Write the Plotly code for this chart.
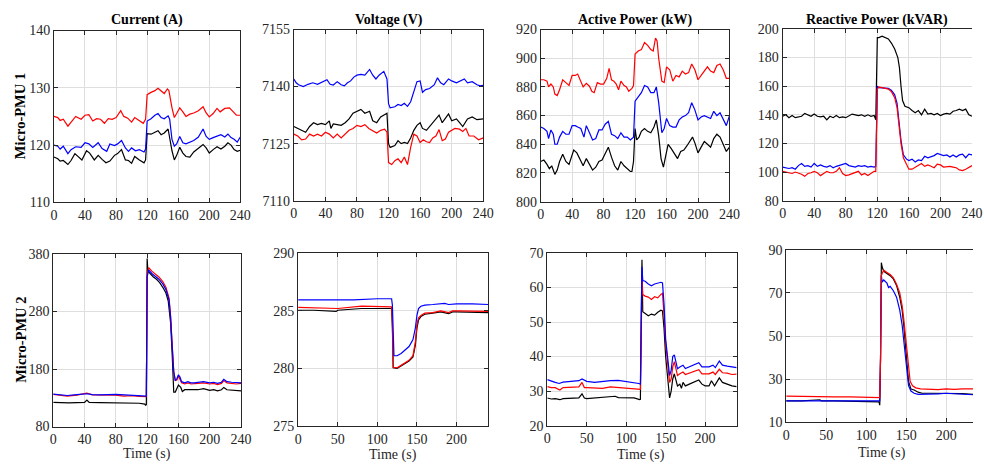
import plotly.graph_objects as go

# ---------------- data (time s, value) ----------------
cur1_red = [(0,125),(5,124.8),(8,124.3),(12,124.5),(18,123.3),(22,124),(28,125),(35,124.5),(40,125.2),(45,125.3),(50,124.2),(55,124.6),(60,124.5),(65,123.8),(70,124.6),(75,124.5),(80,124.8),(86,126),(90,125),(95,124.7),(100,124),(104,124.8),(110,124.2),(115,123.8),(118,124.5),(120,128.8),(125,129.2),(130,129.5),(134,129.9),(138,129.4),(142,129),(146,129.8),(148,129.5),(152,126.5),(155,124.8),(158,125.5),(162,126.5),(166,125.8),(170,125),(175,125.4),(180,125.6),(186,126),(192,126.7),(196,125.6),(200,124.9),(205,125.5),(210,126.4),(214,125.8),(220,126.4),(226,126.5),(230,126),(235,125.2),(240,125.2)]
cur1_blue = [(0,120),(5,119.8),(8,119.3),(12,119.8),(18,118.5),(22,119.2),(28,119.7),(35,119.6),(40,120.4),(45,120.2),(50,119.6),(57,120.4),(62,119.4),(68,118.9),(72,120.2),(78,119.9),(82,120.2),(87,120.8),(92,119.5),(96,118.9),(100,119.5),(105,119),(110,119.2),(116,118.8),(118,119.3),(120,124.2),(125,124.6),(130,125.2),(134,125.5),(138,124.8),(142,124.6),(147,125.1),(149,124.5),(152,121),(155,119.8),(158,120.2),(162,121.5),(166,120.4),(170,120.2),(175,120.5),(180,120.8),(186,121.4),(192,122.8),(196,121.5),(200,121),(205,121.3),(210,121.5),(215,121.8),(220,121.4),(224,121.9),(228,121.3),(232,121),(236,120.5),(240,121.4)]
cur1_black = [(0,117.9),(5,117.6),(8,117.2),(12,117.3),(18,116.6),(22,117.3),(27,118.5),(32,117.8),(36,117.4),(42,119),(46,118.6),(52,117.4),(57,118.2),(62,117.5),(67,116.9),(72,117.2),(78,118.2),(82,118.5),(87,119.2),(92,117.4),(96,117.3),(100,116.8),(104,118),(110,117.4),(116,116.9),(118,117.4),(120,122),(125,121.9),(130,122.3),(134,122.5),(138,121.8),(142,122.1),(147,122.8),(149,121.2),(152,119),(155,117.4),(158,118.2),(162,119.6),(166,118.6),(170,118),(175,117.9),(180,118.8),(186,119.4),(192,120.1),(196,119.5),(200,118.6),(205,119.2),(210,119.7),(215,119.3),(220,119.8),(224,120.4),(228,120),(232,119.2),(236,118.9),(240,119.1)]

volt1_blue = [(0,7142),(3,7141),(6,7140.5),(12,7140),(18,7140.6),(24,7141),(30,7140.6),(36,7141.2),(42,7141.8),(46,7140.6),(50,7140.4),(55,7141.3),(60,7140.5),(64,7140.2),(68,7141),(72,7141.5),(76,7142.5),(80,7143),(85,7143.2),(90,7143),(96,7144.5),(100,7143),(104,7142),(108,7143),(114,7144),(118,7142),(120,7135.5),(122,7134.4),(128,7134.7),(132,7135.3),(136,7135),(140,7135.6),(144,7134.8),(148,7136),(152,7139),(156,7141.3),(160,7141.5),(163,7138.5),(167,7139.2),(172,7139.5),(178,7140.5),(182,7142.3),(186,7141),(190,7140.5),(196,7142),(200,7141.5),(206,7141),(212,7141.5),(216,7142),(220,7141),(226,7141.3),(232,7140.5),(236,7140.2),(240,7140.3)]
volt1_black = [(0,7129.5),(5,7129),(10,7128.5),(15,7128),(20,7129.5),(25,7130.5),(30,7130),(35,7130.3),(40,7130),(45,7131),(47,7129),(50,7130.2),(55,7130),(60,7129.8),(65,7130.5),(70,7131.5),(75,7133),(80,7133.5),(85,7134),(90,7133),(96,7133.5),(100,7131),(105,7130.5),(110,7132),(118,7133),(120,7125),(122,7124),(128,7124.5),(132,7125.8),(136,7125),(140,7125.3),(144,7125),(148,7126.5),(152,7128.5),(156,7129.8),(160,7130.5),(163,7129),(168,7128.5),(174,7130),(180,7131.5),(184,7132.5),(188,7130.5),(192,7131.5),(196,7132.8),(200,7131),(206,7131.5),(210,7130.5),(214,7129.5),(220,7131.5),(226,7132),(232,7131.3),(240,7131.5)]
volt1_red = [(0,7127.5),(5,7127),(10,7126),(15,7126.2),(20,7127.5),(25,7127),(30,7127.5),(35,7127),(40,7128),(45,7127.5),(50,7126.5),(55,7127.5),(60,7126.5),(65,7127.5),(70,7128.5),(75,7129),(80,7129.8),(85,7129.5),(90,7130),(95,7129),(100,7128.5),(105,7127.8),(110,7128.5),(115,7128.8),(118,7128),(120,7120),(124,7119.5),(128,7120.5),(132,7121),(136,7120),(140,7121.5),(144,7119.5),(148,7124),(152,7127.5),(156,7127),(160,7125.3),(164,7126),(168,7125.5),(172,7125.3),(176,7126.5),(180,7127),(184,7128.7),(188,7125.8),(192,7126.2),(196,7128),(200,7128.5),(204,7129),(210,7128.8),(214,7128.2),(218,7129),(222,7127),(228,7127),(234,7126),(240,7126.5)]

ap1_red = [(0,885),(4,885),(8,884),(10,880),(13,882),(16,880),(18,875),(21,874),(24,878),(28,885),(32,883),(36,881),(40,888),(44,888),(47,889),(51,883),(54,880),(58,882.5),(62,880.5),(65,877),(68,876),(72,883),(76,882),(80,882),(84,886),(87,893),(90,885),(93,884),(96,882),(99,878),(102,884),(106,881),(109,880),(112,877),(116,879),(118,881),(120,903),(124,905),(128,906),(132,911),(136,909),(140,906),(143,905),(146,914),(148,912),(150,900),(154,884),(157,883),(160,894),(164,892),(168,884),(172,888),(176,887),(180,891),(184,889),(188,890),(192,896),(196,892),(200,885),(204,888),(208,891),(212,894),(216,891),(220,890),(224,895),(228,896),(232,892),(236,886),(240,886)]
ap1_blue = [(0,852),(4,851),(8,849),(10,844),(13,850),(16,847),(18,840),(21,840),(24,845),(28,849),(32,847),(36,847),(40,853),(44,853),(47,852),(51,851),(55,845),(58,853),(62,848),(66,843),(70,844),(74,850),(78,850),(82,854),(86,856),(90,847),(94,846),(98,844),(102,848),(106,845),(110,845),(114,843),(118,845),(120,870),(124,873),(128,876),(132,881),(136,880),(140,876),(144,876),(147,880),(150,869),(154,848),(157,851),(160,858),(164,853),(168,852),(172,852),(176,857),(180,859),(184,860),(188,862),(192,869),(196,864),(200,857),(204,859),(208,860),(212,859),(216,858),(220,863),(224,860),(228,862),(232,858),(236,853),(240,860)]
ap1_black = [(0,828),(4,829),(8,826),(11,823),(14,825),(18,819),(21,822),(24,828),(28,833),(32,828),(36,826),(40,832),(42,836),(46,834),(50,829),(54,825),(58,830),(62,826),(66,822),(70,824),(74,828),(78,829),(82,834),(86,838),(90,831),(94,825),(98,822),(102,828),(106,825),(110,823),(114,821),(116,821),(118,828),(120,851),(122,843),(125,845),(128,849),(132,851),(136,849),(140,848),(144,852),(147,857),(150,846),(153,830),(156,824),(159,832),(162,840),(166,837),(170,833),(174,830),(178,835),(182,836),(186,839),(190,842),(193,845),(196,841),(200,834),(204,838),(208,842),(212,840),(216,838),(220,844),(224,847),(228,845),(232,840),(236,835),(240,838)]

rp1_black = [(0,139),(4,140),(8,138),(12,139.5),(16,138),(20,138.5),(24,139),(28,141),(32,140),(36,139),(40,140.5),(44,139),(48,138.5),(52,139),(56,136.5),(60,139),(64,138),(68,139.5),(72,138),(76,138.5),(80,138),(84,139),(88,140.5),(92,140),(96,139.5),(100,140),(104,139),(108,140),(112,139),(116,139.5),(118,136.5),(120,194),(122,194),(126,195),(130,194),(134,193),(138,190),(142,186),(146,180),(148,173),(150,160),(152,150),(155,146),(160,145),(164,143),(168,141.5),(172,143),(176,140),(180,144),(184,140.5),(188,141),(192,140),(196,141),(200,139.5),(204,140.5),(208,141),(212,140.5),(216,142.5),(220,143),(224,144),(228,143),(232,144),(236,140),(240,139)]
rp1_blue = [(0,103.5),(4,103),(8,102.5),(12,103),(16,102),(20,104.5),(24,106),(28,104),(32,104.5),(36,103.5),(40,106),(44,104),(48,105),(52,104),(56,103.5),(60,104.5),(64,103),(68,104),(72,104.5),(76,105.5),(80,106),(84,104.5),(88,104),(92,103.5),(96,104.5),(100,104),(104,104.5),(108,103.5),(112,104),(116,103.5),(118,104),(120,160),(122,159),(126,159),(130,159),(134,158.5),(138,157),(142,154),(145,148),(148,133),(150,122),(153,112),(157,109),(160,108),(164,109),(168,107),(172,108.5),(176,108),(180,111),(184,110),(188,110.5),(192,111.5),(196,113),(200,112),(204,111.5),(208,112),(212,110.5),(216,112),(220,110.5),(224,112),(228,112.5),(232,110),(236,112.5),(240,112)]
rp1_red = [(0,100.5),(4,100),(8,100),(12,99),(16,100),(20,99.5),(24,98.5),(28,97),(32,99),(36,99.5),(40,100.5),(44,99.5),(48,97.5),(52,99),(56,100.5),(60,99.5),(64,99.5),(68,100.5),(72,103),(76,99),(80,97.5),(84,98),(88,99),(92,99.5),(96,100.5),(100,98),(104,99),(108,97.5),(112,99),(116,100.5),(118,100.5),(120,158),(122,159.5),(126,159),(130,159),(134,158),(138,156),(142,152),(145,145),(148,130),(150,120),(153,110),(157,106),(160,102),(164,102),(168,103.5),(172,105),(176,106),(180,104),(184,105),(188,104),(192,103),(196,105.5),(200,105),(204,103.5),(208,104),(212,104),(216,103.5),(220,103),(224,101.5),(228,101),(232,102),(236,103.5),(240,104.5)]

cur2_blue = [(0,136.5),(10,135.5),(18,134),(30,135.5),(43,137),(50,135.5),(60,135),(80,136),(100,135),(110,134),(118,133),(119,133),(120,340),(122,352),(126,346),(130,342),(135,336),(140,328),(144,318),(148,300),(150,270),(152,220),(154,175),(156,160),(158,163),(160,170),(162,166),(164,158),(168,156),(172,158),(176,156),(180,156),(185,157),(192,158),(200,156),(205,157),(210,155),(215,157),(218,162),(222,158),(228,157),(234,156),(240,156)]
cur2_red = [(0,136),(10,135),(18,133),(30,134.5),(43,138),(50,135),(60,135),(80,134.5),(90,133),(100,133.5),(110,132.5),(118,132),(119,132),(120,345),(122,356),(126,350),(130,346),(135,340),(140,332),(144,322),(148,303),(150,272),(152,222),(154,176),(156,160),(158,161),(160,168),(162,163),(164,156),(168,154),(172,156),(176,154),(180,154),(185,155),(192,156),(200,154),(205,155),(210,153),(215,155),(218,160),(222,156),(228,155),(234,154),(240,155)]
cur2_black = [(0,122),(10,121),(20,121),(30,121.5),(40,122),(43,126),(46,122),(60,121.5),(80,121.5),(100,121),(110,120.5),(117,119),(118,117),(119,118),(120,372),(121,350),(124,345),(128,340),(132,336),(136,330),(140,322),(144,312),(147,298),(150,260),(152,205),(154,140),(156,140),(158,148),(160,152),(163,148),(165,141),(168,144),(172,144),(176,143),(180,143),(185,144),(192,146),(200,143),(205,144),(210,142),(215,144),(218,148),(222,144),(228,143),(234,142),(240,142)]

volt2_blue = [(0,285.95),(20,285.95),(50,285.9),(70,285.95),(100,286.05),(118,286.05),(119,285.5),(120,281.5),(121,281.1),(125,281.1),(130,281.3),(135,281.6),(140,281.9),(145,282.5),(148,283.5),(150,284.6),(152,285.2),(155,285.4),(160,285.5),(170,285.55),(180,285.6),(185,285.65),(190,285.55),(200,285.6),(220,285.6),(240,285.55)]
volt2_red = [(0,285.3),(20,285.25),(50,285.2),(80,285.4),(100,285.35),(118,285.35),(119,284),(120,280.1),(125,280.05),(130,280.25),(135,280.45),(140,280.7),(145,281.1),(148,282.3),(150,283.8),(152,284.4),(155,284.6),(160,284.8),(170,284.85),(180,285),(190,284.85),(195,285.0),(200,285.0),(220,285.0),(240,284.95)]
volt2_black = [(0,285.05),(20,285.05),(48,284.95),(50,285.05),(80,285.2),(100,285.2),(118,285.2),(119,283.5),(120,280.05),(125,280.0),(130,280.2),(135,280.4),(140,280.65),(145,281.0),(148,282.0),(150,283.5),(152,284.2),(155,284.5),(160,284.7),(170,284.8),(180,284.9),(190,284.75),(195,284.9),(200,284.9),(220,284.85),(240,284.85)]

ap2_blue = [(0,33.3),(5,32.8),(10,32.5),(15,32.2),(20,32.6),(30,32.8),(40,33),(44,33.5),(50,32.8),(60,32.5),(70,32.8),(80,33),(90,33.1),(100,32.8),(110,32.5),(116,32.2),(118,32),(119,45),(120,66),(121,62),(124,61.8),(128,61),(132,60.5),(136,61),(140,61.2),(144,61.5),(146,61.3),(148,55),(150,45),(153,38),(155,34.5),(157,36),(159,40),(161,40.5),(163,38),(165,36.5),(168,37),(172,37.5),(175,36.5),(180,37),(186,37.5),(192,38.2),(196,37),(200,37),(205,37),(210,37.5),(213,36.8),(218,38.7),(222,37.5),(228,37.2),(234,37),(240,36.8)]
ap2_red = [(0,31.3),(5,31),(10,31),(16,30.3),(20,31),(30,31),(40,31.2),(44,32.5),(47,31),(50,31),(60,30.9),(70,30.8),(80,31.2),(90,31),(100,30.8),(110,30.7),(117,30.4),(118,30.5),(119,45),(120,63),(121,58),(124,57.5),(128,57.2),(132,56.5),(136,57.3),(140,57),(144,58),(146,58.3),(148,52),(150,44),(153,37),(155,32.5),(157,33.5),(159,37),(161,38.5),(163,36),(165,34.5),(168,35),(172,35.5),(175,34.8),(180,35.2),(186,35.5),(192,36.2),(196,35),(200,35),(205,35),(210,35.5),(213,34.8),(218,36.3),(222,35.3),(228,35.2),(234,34.8),(240,34.9)]
ap2_black = [(0,28),(5,27.7),(10,27.8),(16,27.5),(20,27.8),(30,28),(40,28),(44,29.2),(47,28),(50,27.8),(60,28),(70,28),(80,28.2),(86,28.5),(90,28.1),(100,28),(110,28),(117,27.5),(118,27.6),(119,50),(120,68),(121,53),(124,52.5),(128,51.8),(132,52.3),(136,52),(140,52.8),(144,53.4),(146,53.2),(148,48),(150,40),(153,32),(155,28),(157,30),(159,33.5),(161,35),(163,33),(165,31.5),(168,32),(170,30.8),(172,32.5),(175,31.5),(180,32),(186,32.5),(192,33.2),(196,32),(200,31.5),(205,31.5),(208,33),(212,31.5),(218,33.8),(222,32.5),(228,32),(234,31.5),(240,31.3)]

rp2_red = [(0,22.2),(20,22),(40,22),(60,21.8),(80,21.8),(100,21.5),(116,21.5),(117,21.5),(118,40),(119,78),(120,79),(122,80.5),(126,79.5),(130,78.5),(134,77),(138,74),(142,70),(145,64),(147,58),(149,50),(151,42),(153,34),(155,29),(158,27),(162,26),(168,25.5),(180,25.2),(190,25.2),(200,25.5),(210,25.3),(220,25.5),(234,25.5)]
rp2_black = [(0,20),(20,20),(42,20.5),(44,20),(60,20),(80,19.7),(100,19.5),(116,19.5),(117,18),(118,40),(119,84),(120,82),(122,80),(126,79),(130,78),(134,76.5),(138,73.5),(142,68),(145,62),(147,55),(149,46),(151,36),(153,29),(156,25.5),(160,25),(165,24),(170,23.5),(180,23.5),(190,23.5),(200,23.5),(210,23.3),(220,23.3),(234,23)]
rp2_blue = [(0,20),(20,20),(40,19.8),(60,20),(80,19.8),(100,19.8),(116,20),(117,20),(118,40),(119,78),(120,75),(122,76),(126,74.5),(128,72.5),(130,73),(134,71),(138,68),(142,62),(145,55),(147,48),(149,40),(151,33),(153,27),(156,24.5),(160,23.5),(165,23),(170,23),(180,23.2),(190,23.2),(200,23.5),(210,23.3),(220,23.2),(234,22.8)]

titles = ["Current (A)", "Voltage (V)", "Active Power (kW)", "Reactive Power (kVAR)"]
row_labels = ["Micro-PMU 1", "Micro-PMU 2"]
xlabel = "Time (s)"

# ---------------- layout geometry (pixels) ----------------
W, H = 984, 473
FONT = "Liberation Serif, Times New Roman, serif"
INK = "#262626"

panels = [
    dict(s=[(cur1_black, "black"), (cur1_blue, "blue"), (cur1_red, "red")], px=(50.7, 240), py=(24.3, 201.7), xr=[0, 240], yr=[110, 140], xt=[0,40,80,120,160,200,240], yt=[110,120,130,140], right=True),
    dict(s=[(volt1_black, "black"), (volt1_red, "red"), (volt1_blue, "blue")], px=(294.3, 486.7), py=(23.3, 200), xr=[0, 240], yr=[7110, 7155], xt=[0,40,80,120,160,200,240], yt=[7110,7125,7140,7155], right=True),
    dict(s=[(ap1_black, "black"), (ap1_blue, "blue"), (ap1_red, "red")], px=(545, 736.7), py=(23.3, 201), xr=[0, 240], yr=[800, 920], xt=[0,40,80,120,160,200,240], yt=[800,820,840,860,880,900,920], right=True),
    dict(s=[(rp1_black, "black"), (rp1_blue, "blue"), (rp1_red, "red")], px=(790.7, 983), py=(22.7, 200), xr=[0, 240], yr=[80, 200], xt=[0,40,80,120,160,200,240], yt=[80,100,120,140,160,180,200], right=False),
    dict(s=[(cur2_black, "black"), (cur2_red, "red"), (cur2_blue, "blue")], px=(50, 240.7), py=(255, 433.3), xr=[0, 240], yr=[80, 380], xt=[0,40,80,120,160,200,240], yt=[80,180,280,380], right=True),
    dict(s=[(volt2_black, "black"), (volt2_red, "red"), (volt2_blue, "blue")], px=(298.7, 491.7), py=(254.3, 432.7), xr=[0, 240], yr=[275, 290], xt=[0,50,100,150,200], yt=[275,280,285,290], right=True),
    dict(s=[(ap2_black, "black"), (ap2_red, "red"), (ap2_blue, "blue")], px=(551.7, 744), py=(254, 432.3), xr=[0, 240], yr=[20, 70], xt=[0,50,100,150,200], yt=[20,30,40,50,60,70], right=True),
    dict(s=[(rp2_black, "black"), (rp2_blue, "blue"), (rp2_red, "red")], px=(794.3, 984), py=(250.7, 429), xr=[0, 233.6], yr=[10, 90], xt=[0,50,100,150,200], yt=[10,30,50,70,90], right=False),
]

fig = go.Figure()
layout = dict(width=W, height=H, margin=dict(l=0, r=0, t=0, b=0), autosize=False,
              paper_bgcolor="white", plot_bgcolor="white", showlegend=False,
              font=dict(family=FONT, size=14, color=INK))

for i, p in enumerate(panels):
    k = "" if i == 0 else str(i + 1)
    for data, col in p["s"]:
        fig.add_trace(go.Scatter(x=[d[0] for d in data], y=[d[1] for d in data], mode="lines",
                                 line=dict(color=col, width=1.2), xaxis="x" + k, yaxis="y" + k,
                                 hoverinfo="skip"))
    common = dict(showline=True, linecolor=INK, linewidth=1, ticks="inside", ticklen=4,
                  tickcolor=INK, showgrid=True, gridcolor="#dedede", gridwidth=1, zeroline=False,
                  tickfont=dict(family=FONT, size=14, color=INK))
    layout["xaxis" + k] = dict(common, domain=[p["px"][0] / W, p["px"][1] / W], range=p["xr"],
                               tickvals=p["xt"], anchor="y" + k, mirror="ticks")
    layout["yaxis" + k] = dict(common, domain=[1 - p["py"][1] / H, 1 - p["py"][0] / H], range=p["yr"],
                               tickvals=p["yt"], anchor="x" + k, mirror="ticks" if p["right"] else False)

ann = []
for i, t in enumerate(titles):
    p = panels[i]
    ann.append(dict(text="<b>%s</b>" % t, x=(p["px"][0] + p["px"][1]) / 2 / W, y=1 - 13 / H,
                    xref="paper", yref="paper", showarrow=False, xanchor="center", yanchor="middle",
                    font=dict(family=FONT, size=14, color="black")))
for lab, yc in zip(row_labels, [113, 344]):
    ann.append(dict(text="<b>%s</b>" % lab, x=17 / W, y=1 - yc / H, xref="paper", yref="paper",
                    showarrow=False, textangle=-90, xanchor="center", yanchor="middle",
                    font=dict(family=FONT, size=14.5, color="black")))
for i, xc, yc in zip(range(4, 8), [145, 395, 647, 892], [462, 463, 463, 461]):
    ann.append(dict(text=xlabel, x=xc / W, y=1 - yc / H, xref="paper", yref="paper",
                    showarrow=False, xanchor="center", yanchor="middle",
                    font=dict(family=FONT, size=14, color=INK)))
layout["annotations"] = ann
fig.update_layout(**layout)
fig.write_html("out.html")
